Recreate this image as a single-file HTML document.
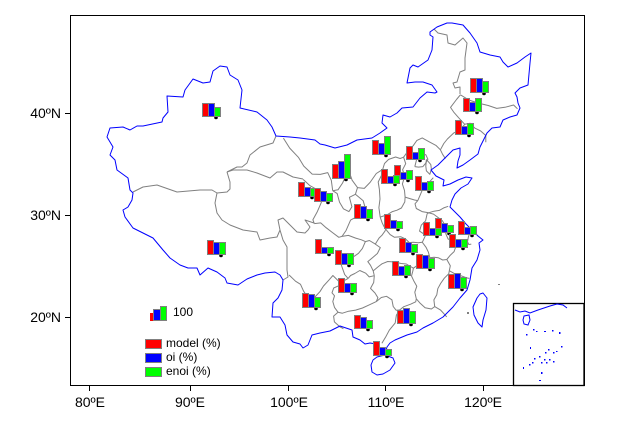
<!DOCTYPE html>
<html>
<head>
<meta charset="utf-8">
<style>
html,body{margin:0;padding:0;background:#fff;}
svg{display:block;font-family:"Liberation Sans",Arial,sans-serif;}
.bar rect{stroke:#808080;stroke-width:1;}
.r{fill:#ff0000}.b{fill:#0000ff}.g{fill:#00ff00}
</style>
</head>
<body>
<svg id="map" width="627" height="421" viewBox="0 0 627 421" xmlns="http://www.w3.org/2000/svg">
<rect x="0" y="0" width="627" height="421" fill="#fff"/>

<g id="prov" fill="none" stroke="#808080" stroke-width="1" stroke-linejoin="round">
<polyline points="133,192 143,187 157,185 177,192 200,190 212,190 217,193"/>
<polyline points="217,193 227,192 230,189 230,182 227,172"/>
<polyline points="227,172 237,167 242,167 247,163 250,155 260,147 273,143 276,136"/>
<polyline points="217,193 215,203 217,213 222,220 230,225 243,230 257,232 260,240 270,238 277,237 280,230"/>
<polyline points="227,172 233,170 247,170 257,173 270,178 277,172 283,172 293,177 303,179"/>
<polyline points="280,230 283,240 287,247 287,257 287,270 288,277 283,280"/>
<polyline points="280,230 278,220 283,218 290,225 297,232 305,233 308,230 310,227 305,220 314,223"/>
<polyline points="434,29 438,33 447,35 448,43 455,45 463,38 467,43 465,58 465,70 460,72 457,82 453,83 455,88 460,87 460,94"/>
</g>

<g fill="none" stroke="#0000ff" stroke-width="1" stroke-linejoin="round">
<path d="M107,137 L110,128 123,127 130,130 137,126 143,126 162,122 163,118 168,112 167,96 183,97 185,90 193,79 203,83 210,82 213,71 220,66 227,67 230,75 238,80 242,90 240,108 257,112 267,120 272,127 276,136 290,137 300,138 315,140 320,144 325,145 335,148 347,145 357,140 372,138 380,133 387,128 382,123 383,115 390,117 397,113 402,108 413,107 420,98 427,92 435,93 437,92 432,85 423,82 415,82 407,83 410,68 413,65 418,67 428,60 432,50 433,37 430,35 430,32 437,27 447,23 452,23 463,25 470,33 477,43 480,52 490,55 500,57 503,62 508,67 517,63 525,57 531,53 530,63 528,85 520,88 515,93 517,97 518,103 520,108 517,115 510,117 503,120 500,127 492,128 487,133 480,147 478,154 470,160 463,165 457,168 458,161 460,155 460,148 453,150 445,158 438,165 431,170 436,176 444,180 443,186 450,184 458,180 466,177 472,178 468,184 461,188 455,194 452,200 450,207 455,212 460,217 466,224 472,230 478,236 483,240 479,243 480,250 477,260 472,268 470,280 467,290 460,298 453,307 443,317 433,323 423,328 417,332 407,335 395,340 390,343 387,347 385,354 383,350 380,348 376,344 370,343 365,344 360,340 353,337 352,330 340,326 330,331 320,333 312,335 308,345 303,348 300,344 293,342 287,335 285,325 280,317 272,317 273,303 278,298 282,290 283,280 280,275 275,272 265,273 257,275 247,279 238,285 227,283 225,278 217,272 208,268 200,275 197,268 188,268 180,265 170,258 163,250 153,238 143,233 133,228 125,217 123,210 128,207 132,200 133,193 130,190 128,178 117,170 115,160 110,155 113,147 110,142 Z"/>
<path d="M377,357 L385,355 393,358 395,363 390,370 383,374 377,375 372,372 371,365 373,360 Z"/>
<path d="M480,294 L483,293 487,298 486,310 483,320 482,327 478,323 474,315 473,307 477,298 Z"/>
</g>
<rect x="467" y="312" width="2" height="2" fill="#808080"/>
<rect x="498" y="284" width="2" height="1" fill="#808080"/>

<!-- frame -->
<rect x="70.5" y="15.5" width="514" height="370" fill="none" stroke="#000" stroke-width="1"/>

<!-- inset -->
<rect x="513.5" y="303.5" width="70.5" height="82" fill="#fff" stroke="#000" stroke-width="1.3"/>
<g fill="none" stroke="#0000ff" stroke-width="1">
<polyline points="515,310 520,312 525,311 530,313 538,310 544,308 550,306 557,304 563,305 567,308"/>
<path d="M524,316 L529,315 530,320 528,325 524,324 523,320 Z"/>
</g>
<g fill="#0000ff">
<rect x="526" y="334" width="1.5" height="1.5"/><rect x="533" y="329" width="1.5" height="1.5"/><rect x="536" y="331" width="1.5" height="1"/>
<rect x="544" y="331" width="2" height="1"/><rect x="552" y="330" width="1.5" height="1.5"/><rect x="559" y="332" width="1.5" height="2"/>
<rect x="530" y="347" width="1" height="2"/><rect x="548" y="349" width="1.5" height="1.5"/><rect x="545" y="352" width="1.5" height="1.5"/>
<rect x="553" y="352" width="1.5" height="1.5"/><rect x="556" y="351" width="1.5" height="1"/><rect x="561" y="346" width="1.5" height="1.5"/>
<rect x="539" y="356" width="1.5" height="1.5"/><rect x="544" y="359" width="1.5" height="1.5"/><rect x="549" y="359" width="1.5" height="1.5"/>
<rect x="534" y="358" width="1.5" height="1.5"/><rect x="532" y="362" width="1.5" height="1.5"/><rect x="529" y="364" width="1.5" height="1.5"/>
<rect x="541" y="362" width="1.5" height="1.5"/><rect x="546" y="362" width="1.5" height="1.5"/><rect x="553" y="361" width="1.5" height="1.5"/>
<rect x="523" y="367" width="1" height="2"/><rect x="541" y="372" width="1.5" height="2"/><rect x="539" y="380" width="2" height="1"/>
</g>

<!-- ticks -->
<g stroke="#000" stroke-width="1">
<line x1="65" y1="113.5" x2="70" y2="113.5"/>
<line x1="65" y1="215.5" x2="70" y2="215.5"/>
<line x1="65" y1="317.5" x2="70" y2="317.5"/>
<line x1="89.5" y1="386" x2="89.5" y2="391"/>
<line x1="190.5" y1="386" x2="190.5" y2="391"/>
<line x1="288.5" y1="386" x2="288.5" y2="391"/>
<line x1="385.5" y1="386" x2="385.5" y2="391"/>
<line x1="483.5" y1="386" x2="483.5" y2="391"/>
</g>
<g font-size="14" fill="#000">
<text x="61" y="118" text-anchor="end">40ºN</text>
<text x="61" y="220" text-anchor="end">30ºN</text>
<text x="61" y="322" text-anchor="end">20ºN</text>
<text x="90" y="407" text-anchor="middle">80ºE</text>
<text x="190" y="407" text-anchor="middle">90ºE</text>
<text x="289" y="407" text-anchor="middle">100ºE</text>
<text x="386" y="407" text-anchor="middle">110ºE</text>
<text x="483" y="407" text-anchor="middle">120ºE</text>
</g>

<!-- bars -->
<g class="bar">
<g transform="translate(202,117)"><ellipse cx="14" cy="0.8" rx="1.8" ry="1.5"/><rect class="r" x="0.5" y="-13.5" width="6" height="13"/><rect class="b" x="6.5" y="-13.5" width="6" height="13"/><rect class="g" x="12.5" y="-9.5" width="6" height="9"/></g>
<g transform="translate(207,255)"><ellipse cx="14" cy="0.8" rx="1.8" ry="1.5"/><rect class="r" x="0.5" y="-14.5" width="6" height="14"/><rect class="b" x="6.5" y="-12.5" width="6" height="12"/><rect class="g" x="12.5" y="-12.5" width="6" height="12"/></g>
<g transform="translate(470,93)"><ellipse cx="14" cy="0.8" rx="1.8" ry="1.5"/><rect class="r" x="0.5" y="-14.5" width="6" height="14"/><rect class="b" x="6.5" y="-14.5" width="6" height="14"/><rect class="g" x="12.5" y="-11.5" width="6" height="11"/></g>
<g transform="translate(463,112)"><ellipse cx="14" cy="0.8" rx="1.8" ry="1.5"/><rect class="r" x="0.5" y="-13.5" width="6" height="13"/><rect class="b" x="6.5" y="-9.5" width="6" height="9"/><rect class="g" x="12.5" y="-13.5" width="6" height="13"/></g>
<g transform="translate(455,135)"><ellipse cx="14" cy="0.8" rx="1.8" ry="1.5"/><rect class="r" x="0.5" y="-14.5" width="6" height="14"/><rect class="b" x="6.5" y="-8.5" width="6" height="8"/><rect class="g" x="12.5" y="-11.5" width="6" height="11"/></g>
<g transform="translate(372,155)"><ellipse cx="14" cy="0.8" rx="1.8" ry="1.5"/><rect class="r" x="0.5" y="-14.5" width="6" height="14"/><rect class="b" x="6.5" y="-11.5" width="6" height="11"/><rect class="g" x="12.5" y="-18.5" width="6" height="18"/></g>
<g transform="translate(406,160)"><ellipse cx="14" cy="0.8" rx="1.8" ry="1.5"/><rect class="r" x="0.5" y="-13.5" width="6" height="13"/><rect class="b" x="6.5" y="-7.5" width="6" height="7"/><rect class="g" x="12.5" y="-11.5" width="6" height="11"/></g>
<g transform="translate(332,179)"><ellipse cx="14" cy="0.8" rx="1.8" ry="1.5"/><rect class="r" x="0.5" y="-14.5" width="6" height="14"/><rect class="b" x="6.5" y="-17.5" width="6" height="17"/><rect class="g" x="12.5" y="-24.5" width="6" height="24"/></g>
<g transform="translate(394,180)"><ellipse cx="14" cy="0.8" rx="1.8" ry="1.5"/><rect class="r" x="0.5" y="-14.5" width="6" height="14"/><rect class="b" x="6.5" y="-7.5" width="6" height="7"/><rect class="g" x="12.5" y="-9.5" width="6" height="9"/></g>
<g transform="translate(381,184)"><ellipse cx="14" cy="0.8" rx="1.8" ry="1.5"/><rect class="r" x="0.5" y="-14.5" width="6" height="14"/><rect class="b" x="6.5" y="-7.5" width="6" height="7"/><rect class="g" x="12.5" y="-8.5" width="6" height="8"/></g>
<g transform="translate(415,191)"><ellipse cx="14" cy="0.8" rx="1.8" ry="1.5"/><rect class="r" x="0.5" y="-14.5" width="6" height="14"/><rect class="b" x="6.5" y="-8.5" width="6" height="8"/><rect class="g" x="12.5" y="-9.5" width="6" height="9"/></g>
<g transform="translate(298,197)"><ellipse cx="14" cy="0.8" rx="1.8" ry="1.5"/><rect class="r" x="0.5" y="-14.5" width="6" height="14"/><rect class="b" x="6.5" y="-9.5" width="6" height="9"/><rect class="g" x="12.5" y="-8.5" width="6" height="8"/></g>
<g transform="translate(314,202)"><ellipse cx="14" cy="0.8" rx="1.8" ry="1.5"/><rect class="r" x="0.5" y="-13.5" width="6" height="13"/><rect class="b" x="6.5" y="-10.5" width="6" height="10"/><rect class="g" x="12.5" y="-8.5" width="6" height="8"/></g>
<g transform="translate(354,219)"><ellipse cx="14" cy="0.8" rx="1.8" ry="1.5"/><rect class="r" x="0.5" y="-14.5" width="6" height="14"/><rect class="b" x="6.5" y="-12.5" width="6" height="12"/><rect class="g" x="12.5" y="-9.5" width="6" height="9"/></g>
<g transform="translate(384,229)"><ellipse cx="14" cy="0.8" rx="1.8" ry="1.5"/><rect class="r" x="0.5" y="-14.5" width="6" height="14"/><rect class="b" x="6.5" y="-8.5" width="6" height="8"/><rect class="g" x="12.5" y="-7.5" width="6" height="7"/></g>
<g transform="translate(435,233)"><ellipse cx="14" cy="0.8" rx="1.8" ry="1.5"/><rect class="r" x="0.5" y="-14.5" width="6" height="14"/><rect class="b" x="6.5" y="-9.5" width="6" height="9"/><rect class="g" x="12.5" y="-7.5" width="6" height="7"/></g>
<g transform="translate(423,236)"><ellipse cx="14" cy="0.8" rx="1.8" ry="1.5"/><rect class="r" x="0.5" y="-13.5" width="6" height="13"/><rect class="b" x="6.5" y="-7.5" width="6" height="7"/><rect class="g" x="12.5" y="-7.5" width="6" height="7"/></g>
<g transform="translate(458,235)"><ellipse cx="14" cy="0.8" rx="1.8" ry="1.5"/><rect class="r" x="0.5" y="-13.5" width="6" height="13"/><rect class="b" x="6.5" y="-7.5" width="6" height="7"/><rect class="g" x="12.5" y="-8.5" width="6" height="8"/></g>
<g transform="translate(449,248)"><ellipse cx="14" cy="0.8" rx="1.8" ry="1.5"/><rect class="r" x="0.5" y="-13.5" width="6" height="13"/><rect class="b" x="6.5" y="-8.5" width="6" height="8"/><rect class="g" x="12.5" y="-8.5" width="6" height="8"/></g>
<g transform="translate(315,254)"><ellipse cx="14" cy="0.8" rx="1.8" ry="1.5"/><rect class="r" x="0.5" y="-14.5" width="6" height="14"/><rect class="b" x="6.5" y="-6.5" width="6" height="6"/><rect class="g" x="12.5" y="-6.5" width="6" height="6"/></g>
<g transform="translate(335,265)"><ellipse cx="14" cy="0.8" rx="1.8" ry="1.5"/><rect class="r" x="0.5" y="-14.5" width="6" height="14"/><rect class="b" x="6.5" y="-11.5" width="6" height="11"/><rect class="g" x="12.5" y="-11.5" width="6" height="11"/></g>
<g transform="translate(399,253)"><ellipse cx="14" cy="0.8" rx="1.8" ry="1.5"/><rect class="r" x="0.5" y="-14.5" width="6" height="14"/><rect class="b" x="6.5" y="-10.5" width="6" height="10"/><rect class="g" x="12.5" y="-8.5" width="6" height="8"/></g>
<g transform="translate(416,269)"><ellipse cx="14" cy="0.8" rx="1.8" ry="1.5"/><rect class="r" x="0.5" y="-14.5" width="6" height="14"/><rect class="b" x="6.5" y="-13.5" width="6" height="13"/><rect class="g" x="12.5" y="-10.5" width="6" height="10"/></g>
<g transform="translate(392,276)"><ellipse cx="14" cy="0.8" rx="1.8" ry="1.5"/><rect class="r" x="0.5" y="-14.5" width="6" height="14"/><rect class="b" x="6.5" y="-9.5" width="6" height="9"/><rect class="g" x="12.5" y="-10.5" width="6" height="10"/></g>
<g transform="translate(448,289)"><ellipse cx="14" cy="0.8" rx="1.8" ry="1.5"/><rect class="r" x="0.5" y="-14.5" width="6" height="14"/><rect class="b" x="6.5" y="-15.5" width="6" height="15"/><rect class="g" x="12.5" y="-11.5" width="6" height="11"/></g>
<g transform="translate(338,293)"><ellipse cx="14" cy="0.8" rx="1.8" ry="1.5"/><rect class="r" x="0.5" y="-14.5" width="6" height="14"/><rect class="b" x="6.5" y="-9.5" width="6" height="9"/><rect class="g" x="12.5" y="-9.5" width="6" height="9"/></g>
<g transform="translate(302,308)"><ellipse cx="14" cy="0.8" rx="1.8" ry="1.5"/><rect class="r" x="0.5" y="-14.5" width="6" height="14"/><rect class="b" x="6.5" y="-13.5" width="6" height="13"/><rect class="g" x="12.5" y="-10.5" width="6" height="10"/></g>
<g transform="translate(354,329)"><ellipse cx="14" cy="0.8" rx="1.8" ry="1.5"/><rect class="r" x="0.5" y="-13.5" width="6" height="13"/><rect class="b" x="6.5" y="-11.5" width="6" height="11"/><rect class="g" x="12.5" y="-8.5" width="6" height="8"/></g>
<g transform="translate(397,324)"><ellipse cx="14" cy="0.8" rx="1.8" ry="1.5"/><rect class="r" x="0.5" y="-13.5" width="6" height="13"/><rect class="b" x="6.5" y="-15.5" width="6" height="15"/><rect class="g" x="12.5" y="-12.5" width="6" height="12"/></g>
<g transform="translate(373,356)"><ellipse cx="14" cy="0.8" rx="1.8" ry="1.5"/><rect class="r" x="0.5" y="-14.5" width="6" height="14"/><rect class="b" x="6.5" y="-8.5" width="6" height="8"/><rect class="g" x="12.5" y="-6.5" width="6" height="6"/></g>
</g>

<!-- legend -->
<rect x="150" y="313" width="4" height="8" fill="#ff0000"/>
<g class="bar">
<rect class="b" x="153.5" y="309.5" width="7" height="11"/>
<rect class="g" x="160.5" y="306.5" width="6" height="14"/>
<rect class="r" x="145.5" y="339.5" width="16" height="9"/>
<rect class="b" x="145.5" y="353.5" width="16" height="9"/>
<rect class="g" x="145.5" y="367.5" width="16" height="9"/>
</g>
<g font-size="12" fill="#000">
<text x="173" y="316">100</text>
<text x="166" y="347">model (%)</text>
<text x="166" y="361">oi (%)</text>
<text x="166" y="375">enoi (%)</text>
</g>
</svg>
<script>
(function(){
var n=0.6,F=1100,D=Math.PI/180;
function P(a,b){var r=Math.pow(Math.tan(Math.PI/4+b*D/2),-n),t=n*(a-105)*D;return (338+F*r*Math.sin(t)).toFixed(1)+','+(-529+F*r*Math.cos(t)).toFixed(1);}
var L=[
[[97.2,42.8],[98.2,41.8],[99.5,40.9],[100.3,40.0],[101.5,39.2],[102.6,39.2],[103.6,39.4],[104.1,38.6],[104.3,37.5]],
[[104.3,37.5],[105.0,37.6],[105.6,38.3],[106.1,39.1],[106.6,39.3],[106.9,38.6],[107.6,37.8],[107.3,37.1],[106.5,36.8],[106.8,35.8],[106.4,35.3],[105.7,35.6],[105.2,36.3],[104.9,37.2],[104.3,37.5]],
[[107.6,37.8],[108.5,37.7],[109.3,38.3],[110.2,39.2],[111.1,39.6]],
[[111.1,39.6],[110.9,39.0],[110.4,38.3],[110.5,37.5],[110.5,36.5],[110.3,35.6],[110.4,34.6]],
[[111.1,39.6],[111.4,40.2],[112.0,40.6],[113.0,40.8],[113.6,40.6],[114.1,40.7]],
[[114.1,40.7],[114.3,40.0],[113.8,39.4],[114.0,38.7],[113.6,37.9],[113.8,37.2],[113.8,36.5],[113.7,36.0],[113.2,35.4],[112.6,35.2],[112.0,35.1],[111.3,34.8],[110.4,34.6]],
[[107.3,37.1],[108.3,36.4],[108.6,35.4],[107.8,34.9],[106.6,34.4],[106.0,33.3],[105.5,32.7]],
[[100.3,38.6],[101.2,38.0],[102.2,37.6],[102.8,37.2],[103.0,36.6],[102.6,35.8],[102.3,35.2],[101.8,34.4],[102.0,34.0]],
[[102.0,34.0],[102.8,34.1],[103.5,33.6],[104.3,33.1],[105.1,32.6],[105.5,32.7]],
[[105.5,32.7],[106.3,32.8],[107.2,32.5],[107.9,32.3],[108.4,32.1]],
[[108.4,32.1],[108.9,32.2],[109.6,31.8],[110.1,32.4],[110.5,32.7],[110.9,33.1],[111.0,33.3],[110.8,33.6],[110.6,34.0],[110.4,34.6]],
[[108.4,32.1],[108.0,31.4],[107.5,30.9],[107.0,30.6],[106.4,30.4],[105.8,30.3],[105.4,29.7],[105.6,29.2],[105.8,28.7],[106.2,28.3]],
[[109.6,31.8],[110.2,31.4],[109.8,30.8],[109.2,30.4],[108.6,30.0],[108.9,29.6],[109.2,29.0],[109.3,28.5]],
[[109.3,28.5],[108.7,28.4],[108.3,28.8],[107.6,29.1],[107.0,28.8],[106.5,28.6],[106.2,28.3]],
[[106.2,28.3],[105.8,28.1],[105.3,27.8]],
[[99.2,28.5],[100.0,27.9],[100.6,27.6],[101.0,26.9],[101.5,26.3],[101.9,26.1],[102.4,26.4],[102.9,26.9],[103.3,27.5],[104.0,28.2],[104.4,28.6],[105.3,27.8]],
[[105.3,27.8],[105.0,27.5],[104.5,27.3],[104.3,26.8],[104.6,26.5],[104.4,25.9],[104.6,25.3],[105.0,24.8]],
[[105.0,24.8],[104.5,24.4],[104.6,23.8],[105.2,23.3],[105.6,23.1]],
[[105.0,24.8],[105.5,24.7],[106.2,24.9],[107.0,25.0],[107.8,25.2],[108.6,25.5],[109.4,25.8]],
[[109.3,28.5],[109.2,27.8],[108.8,27.2],[109.3,26.7],[109.6,26.2],[109.4,25.8]],
[[109.2,29.0],[109.8,29.4],[110.3,29.7],[111.0,29.9],[111.8,29.8],[112.6,29.6],[113.2,29.5],[114.0,29.0]],
[[109.4,25.8],[110.0,26.2],[110.6,26.3],[111.2,25.9],[111.3,25.2],[111.6,24.8],[112.0,24.8]],
[[112.0,24.8],[112.5,25.1],[113.3,25.3],[113.9,25.5],[114.0,25.8]],
[[114.0,25.8],[113.9,26.5],[114.2,27.1],[113.9,27.7],[113.7,28.2],[113.9,28.7],[114.0,29.0]],
[[112.0,24.8],[111.6,24.3],[111.4,23.5],[110.7,22.8],[110.3,22.2],[109.8,21.5]],
[[114.0,25.8],[114.4,25.3],[114.9,24.8],[115.6,24.6],[116.0,24.8]],
[[116.0,24.8],[116.6,24.4],[117.0,23.9],[117.2,23.6]],
[[116.0,24.8],[116.0,25.5],[116.4,26.0],[116.6,26.6],[117.0,27.1],[117.5,27.6],[118.1,28.0],[118.2,28.3]],
[[118.2,28.3],[118.8,27.9],[119.5,27.6],[120.1,27.3],[120.4,27.2]],
[[118.2,28.3],[118.4,28.8],[118.1,29.5]],
[[118.1,29.5],[117.6,29.5],[117.1,29.8],[116.6,29.9],[116.1,29.9]],
[[116.1,29.9],[115.6,29.8],[115.2,29.6],[114.6,29.3],[114.0,29.0]],
[[116.1,29.9],[116.0,30.5],[115.8,31.0],[115.6,31.3],[115.4,31.6]],
[[111.0,33.3],[111.5,32.7],[112.0,32.4],[112.8,32.4],[113.4,32.1],[113.8,31.7],[114.3,31.7],[114.9,31.6],[115.4,31.6]],
[[115.4,31.6],[115.9,32.3],[115.2,32.8],[115.5,33.4],[116.1,33.8],[116.4,34.5],[116.6,34.6]],
[[116.6,34.6],[117.2,34.4],[117.7,34.0],[118.2,33.6],[118.5,33.0],[118.9,32.6],[118.4,32.2],[118.6,31.6],[119.2,31.3],[119.6,31.2]],
[[118.1,29.5],[118.6,29.9],[119.1,30.2],[119.4,30.7],[119.6,31.2]],
[[119.6,31.2],[120.3,31.0],[120.9,31.0],[121.1,31.5],[121.3,31.8]],
[[120.9,31.0],[121.0,30.7],[121.3,30.7]],
[[116.6,34.6],[117.3,34.7],[118.0,34.7],[118.6,34.9],[119.2,35.0]],
[[116.6,34.6],[115.8,34.8],[115.1,35.2],[115.0,35.7],[115.4,36.0]],
[[113.8,36.5],[114.4,36.3],[115.0,36.1],[115.4,36.0]],
[[115.4,36.0],[115.9,36.7],[116.4,37.4],[117.2,37.8],[117.8,38.2]],
[[115.5,39.6],[115.9,40.4],[116.4,40.9],[117.2,40.7],[117.4,40.2],[117.0,39.8],[116.6,39.5],[116.0,39.5],[115.5,39.6]],
[[117.2,40.2],[117.7,39.6],[117.7,39.1],[117.4,38.6],[117.0,39.0],[117.0,39.5],[117.2,40.2]],
[[114.1,40.7],[114.8,41.3],[115.6,41.8],[116.2,42.3],[117.0,42.5],[117.9,42.0],[118.8,41.5],[119.3,41.0]],
[[119.3,41.0],[119.5,40.5],[119.8,40.0]],
[[119.3,41.0],[119.9,41.6],[120.5,42.0],[121.5,42.5],[122.5,42.7],[123.3,43.2]],
[[123.3,43.2],[124.1,43.2],[124.6,42.6],[125.3,42.2],[125.9,41.6],[125.7,40.9]],
[[123.3,43.2],[122.6,44.0],[122.1,44.6],[121.7,45.2],[122.8,45.9],[123.5,46.3]],
[[123.5,46.3],[124.6,45.6],[125.8,45.1],[127.2,44.6],[128.3,44.1],[129.5,44.0],[130.8,44.0],[131.2,43.5]]
];
var ns='http://www.w3.org/2000/svg',g=document.getElementById('prov');
for(var i=0;i<L.length;i++){var e=document.createElementNS(ns,'polyline');e.setAttribute('points',L[i].map(function(p){return P(p[0],p[1]);}).join(' '));g.appendChild(e);}
})();
</script>
</body>
</html>
